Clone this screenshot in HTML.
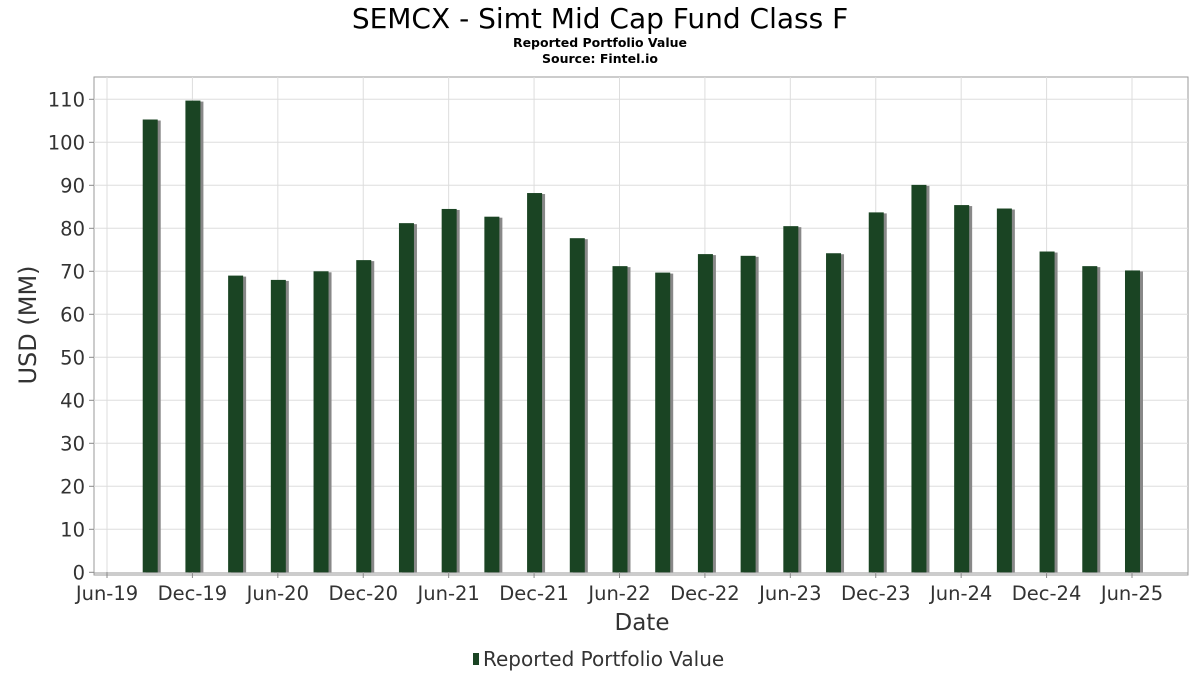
<!DOCTYPE html>
<html><head><meta charset="utf-8"><style>
body{margin:0;background:#fff;width:1200px;height:675px;overflow:hidden;font-family:"DejaVu Sans","Liberation Sans",sans-serif}
</style></head><body>
<svg id="chart" width="1200" height="675" xmlns="http://www.w3.org/2000/svg">
<text x="600" y="28" text-anchor="middle" font-size="28" fill="#000">SEMCX - Simt Mid Cap Fund Class F</text>
<text x="600" y="47" text-anchor="middle" font-size="12.5" font-weight="bold" fill="#000">Reported Portfolio Value</text>
<text x="600" y="63" text-anchor="middle" font-size="12.5" font-weight="bold" fill="#000">Source: Fintel.io</text>
<rect x="94" y="77" width="1094" height="498" fill="#fff" stroke="#999" stroke-width="1"/>
<g id="grid"></g><g id="bars"></g><g id="axes"></g>
<text x="642" y="630" text-anchor="middle" font-size="23" fill="#333">Date</text>
<text transform="translate(36,325) rotate(-90)" text-anchor="middle" font-size="24" fill="#333">USD (MM)</text>
<g>
<rect x="473" y="653" width="6" height="12" fill="#1a4423"/>
<text x="483" y="666" font-size="20" fill="#333">Reported Portfolio Value</text>
</g>
</svg>
<script>
const dates=["2019-09","2019-12","2020-03","2020-06","2020-09","2020-12","2021-03","2021-06","2021-09","2021-12","2022-03","2022-06","2022-09","2022-12","2023-03","2023-06","2023-09","2023-12","2024-03","2024-06","2024-09","2024-12","2025-03","2025-06"];
const values=[105.3,109.7,69.0,68.0,70.0,72.6,81.2,84.5,82.7,88.2,77.7,71.2,69.7,74.0,73.6,80.5,74.2,83.7,90.1,85.4,84.6,74.6,71.2,70.2];
const yTicks=[0,10,20,30,40,50,60,70,80,90,100,110];
const xTickLabels=["Jun-19","Dec-19","Jun-20","Dec-20","Jun-21","Dec-21","Jun-22","Dec-22","Jun-23","Dec-23","Jun-24","Dec-24","Jun-25"];
const xTickDates=["2019-06","2019-12","2020-06","2020-12","2021-06","2021-12","2022-06","2022-12","2023-06","2023-12","2024-06","2024-12","2025-06"];
const NS="http://www.w3.org/2000/svg";
function mIdx(d){const [y,m]=d.split("-").map(Number);return y*12+m;}
const x0=mIdx("2019-06");
function xS(d){return 107+(mIdx(d)-x0)*14.236;}
function yS(v){return 572.3-v*4.3;}
function mk(tag,attrs,parent){const e=document.createElementNS(NS,tag);for(const k in attrs)e.setAttribute(k,attrs[k]);parent.appendChild(e);return e;}
const grid=document.getElementById("grid"),bars=document.getElementById("bars"),axes=document.getElementById("axes");
yTicks.forEach(t=>{
  const y=yS(t);
  if(t>0){const g=mk("line",{x1:94,x2:1188,y1:y,y2:y,stroke:"#ddd","stroke-width":1},grid);
  
  }
  const tk=mk("line",{x1:89,x2:94,y1:y,y2:y,stroke:"#888"},axes);
  
  
  const tx=mk("text",{x:85,y:y+7,"text-anchor":"end","font-size":19.5,fill:"#333"},axes);
  tx.textContent=t;
  
  
});
xTickDates.forEach((d,i)=>{
  const x=xS(d);
  const g=mk("line",{x1:x,x2:x,y1:77,y2:572,stroke:"#ddd","stroke-width":1},grid);
  
  
  const tk=mk("line",{x1:x,x2:x,y1:572,y2:578,stroke:"#888"},axes);
  
  
  const tx=mk("text",{x:x,y:600,"text-anchor":"middle","font-size":19.5,fill:"#333"},axes);
  tx.textContent=xTickLabels[i];
  
  
});
const ax=mk("line",{x1:94,x2:1188,y1:573,y2:573,stroke:"#999"},axes);


dates.forEach((d,i)=>{
  const x=xS(d),y=yS(values[i]),h=572.3-y;
  const s=mk("rect",{x:x-4,y:y+1,width:15,height:h-1,fill:"#888"},bars);
  
  
  const b=mk("rect",{x:x-7,y:y,width:15,height:h,fill:"#1a4423"},bars);
  
  
});
</script>
</body></html>
